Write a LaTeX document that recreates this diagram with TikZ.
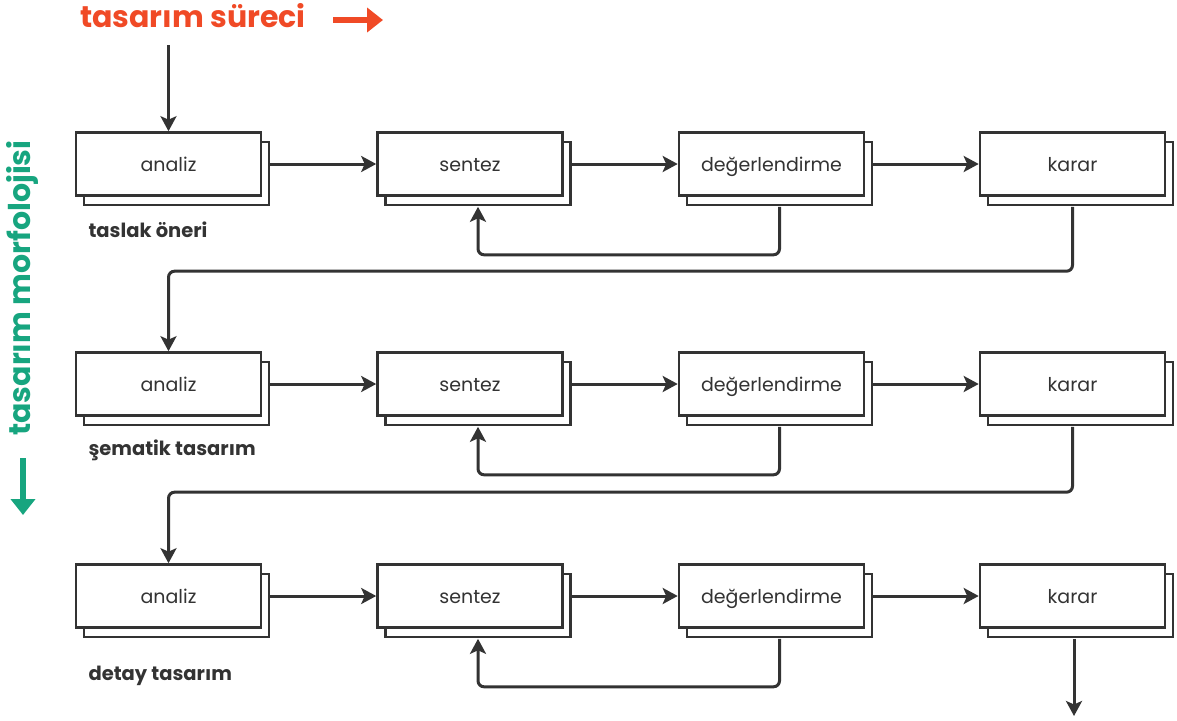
\documentclass[tikz,border=0pt]{standalone}
\usepackage{fontspec}
\setmainfont{Poppins}
\usetikzlibrary{arrows.meta,calc,shadows}
\definecolor{ink}{HTML}{333333}
\definecolor{flow}{HTML}{F04A26}
\definecolor{morph}{HTML}{17A57F}
\begin{document}
\begin{tikzpicture}[x=1pt,y=-1pt,
  box/.style={draw=ink,line width=2.6pt,fill=white,minimum width=185pt,minimum height=63pt,
    inner sep=0pt,text=ink,font=\fontsize{19}{19}\selectfont,text height=16.5pt,text depth=1.5pt,
    copy shadow={shadow xshift=8pt,shadow yshift=-9.5pt,fill=white,draw=ink,line width=2.6pt}},
  arr/.style={draw=ink,line width=3pt,rounded corners=6pt,-{Stealth[length=15pt,width=16pt,inset=3.5pt]}},
  stage/.style={anchor=west,text=ink,font=\fontsize{19.5}{19.5}\selectfont\bfseries},
  bigarr/.style={line width=6pt,-{Triangle[length=16pt,width=24pt]}}]
\useasboundingbox (0,0) rectangle (1177,720);

% headings
\node[text=flow,font=\fontsize{30}{30}\selectfont\bfseries] (title) at (193,16) {tasarım süreci};
\coordinate (ta) at (333,20);
\coordinate (tb) at (383,20);
\draw[bigarr,flow] (ta) -- (tb);

\node[text=morph,font=\fontsize{30}{30}\selectfont\bfseries,rotate=90] (side) at (22,288) {tasarım morfolojisi};
\coordinate (sa) at (23,458);
\coordinate (sb) at (23,515);
\draw[bigarr,morph] (sa) -- (sb);

% three rows of stages
\foreach \r/\y in {1/164,2/384,3/596}{
  \node[box] (a\r) at (168.5,\y) {analiz};
  \node[box] (s\r) at (470,\y) {sentez};
  \node[box] (d\r) at (771.5,\y) {değerlendirme};
  \node[box] (k\r) at (1072.5,\y) {karar};
  \draw[arr] ($(a\r.east)+(8,0)$) -- (s\r.west);
  \draw[arr] ($(s\r.east)+(8,0)$) -- (d\r.west);
  \draw[arr] ($(d\r.east)+(8,0)$) -- (k\r.west);
  \draw[arr] ($(d\r.south)+(8,10)$) |- ($(s\r.south)+(8,58)$) -- ($(s\r.south)+(8,10)$);
}

\node[stage] (l1) at (85,230) {taslak öneri};
\node[stage] (l2) at (85,450) {şematik tasarım};
\node[stage] (l3) at (85,676) {detay tasarım};

% links between rows
\coordinate (start) at (168.5,45);
\draw[arr] (start) -- (a1.north);
\draw[arr] ($(k1.south)+(0,10)$) |- ($(a2.north)+(0,-80)$) -- (a2.north);
\draw[arr] ($(k2.south)+(0,10)$) |- ($(a3.north)+(0,-71)$) -- (a3.north);
\coordinate (end) at (1074,716);
\draw[arr] ($(k3.south)+(1.5,10)$) -- (end);
\end{tikzpicture}
\end{document}
